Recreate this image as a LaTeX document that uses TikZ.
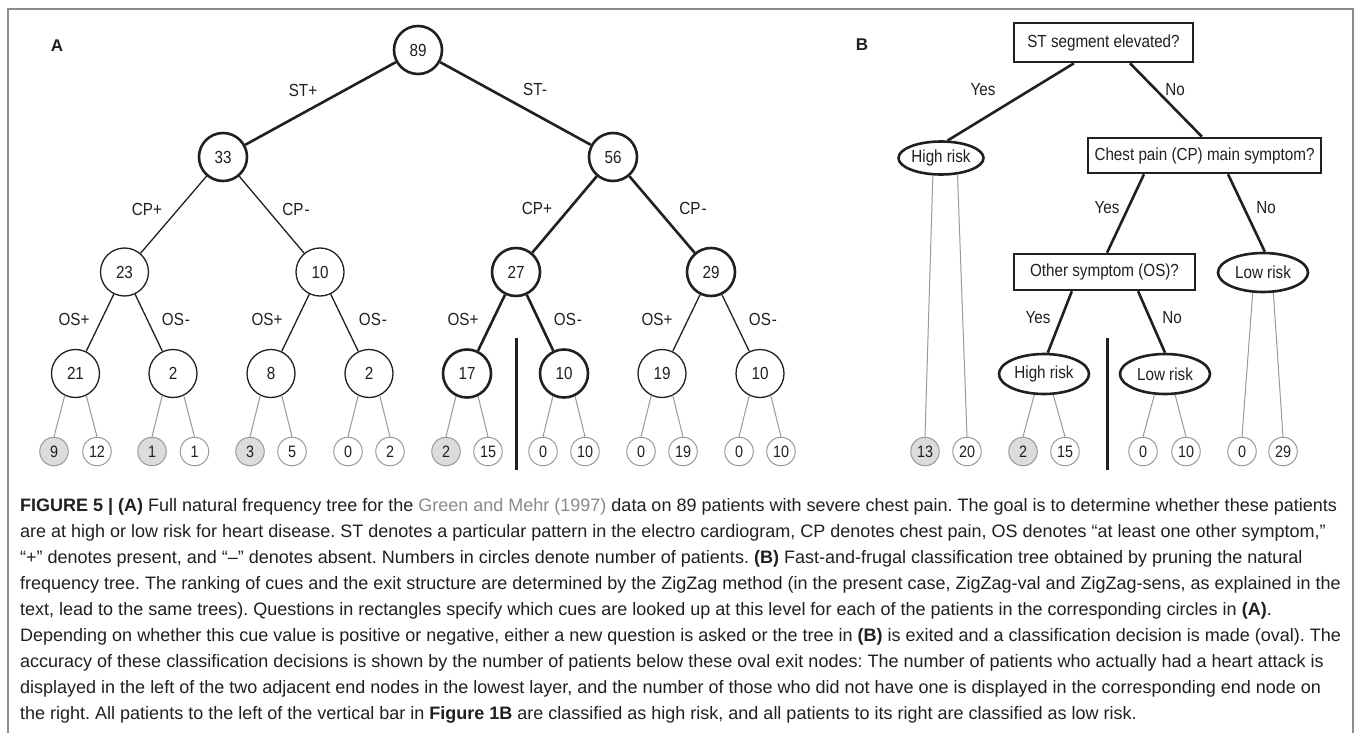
\documentclass[tikz,border=0pt]{standalone}
\usepackage{fontspec}
\setmainfont{Liberation Sans}
\newfontfamily\condf[FakeStretch=0.87]{Liberation Sans}
\newfontfamily\capf{Liberation Sans}
\usetikzlibrary{shapes.geometric,calc}
\definecolor{ink}{HTML}{231F20}
\definecolor{framegray}{HTML}{8C8C8C}
\definecolor{leafgray}{HTML}{999999}
\definecolor{leaffill}{HTML}{DCDCDC}
\definecolor{linkgray}{HTML}{8A8A8A}
\tikzset{
  tfont/.style={font=\condf\fontsize{17.5}{20}\selectfont},
  bign/.style={circle, draw=ink, line width=1.3pt, minimum size=48pt, inner sep=0pt, text=ink, tfont},
  bigt/.style={bign, line width=2.6pt},
  leaf/.style={circle, draw=leafgray, line width=1pt, fill=white, minimum size=28.5pt, inner sep=0pt, text=ink, font=\condf\fontsize{16.5}{19}\selectfont},
  leafs/.style={leaf, fill=leaffill},
  thinedge/.style={draw=ink, line width=1.3pt},
  thickedge/.style={draw=ink, line width=2.6pt},
  leafedge/.style={draw=leafgray, line width=1pt},
  lbl/.style={inner sep=0pt, text=ink, tfont},
  qbox/.style={rectangle, draw=ink, line width=2.6pt, inner sep=0pt, text=ink, tfont},
  oval/.style={ellipse, draw=ink, line width=2.6pt, inner sep=0pt, text=ink, tfont},
  vbar/.style={draw=ink, line width=3pt},
  panel/.style={inner sep=0pt, text=ink, font=\bfseries\fontsize{17}{20}\selectfont}
}
\begin{document}
\begin{tikzpicture}[x=1pt,y=-1pt]
\useasboundingbox (0,0) rectangle (1357,733);
\fill[white] (0,0) rectangle (1357,733);
\draw[framegray, line width=2pt] (8,734) -- (8,9) -- (1353,9) -- (1353,734);

% ---------------- Panel A ----------------
\node[panel] (pA) at (57,46) {A};
\node[bigt] (n89) at (418,50) {89};
\node[bigt] (n33) at (223,157) {33};
\node[bigt] (n56) at (613,157) {56};
\node[bign] (n23) at (124.5,272) {23};
\node[bign] (n10a) at (320,272) {10};
\node[bigt] (n27) at (516,272) {27};
\node[bigt] (n29) at (711,272) {29};
\node[bign] (n21) at (75.5,373.5) {21};
\node[bign] (n2a) at (173,373.5) {2};
\node[bign] (n8) at (271,373.5) {8};
\node[bign] (n2b) at (369,373.5) {2};
\node[bigt] (n17) at (467,373.5) {17};
\node[bigt] (n10b) at (564,373.5) {10};
\node[bign] (n19) at (662,373.5) {19};
\node[bign] (n10c) at (760,373.5) {10};

\node[leafs] (a1) at (54,451.5) {9};
\node[leaf]  (a2) at (97,451.5) {12};
\node[leafs] (a3) at (152,451.5) {1};
\node[leaf]  (a4) at (194.5,451.5) {1};
\node[leafs] (a5) at (250,451.5) {3};
\node[leaf]  (a6) at (292,451.5) {5};
\node[leaf]  (a7) at (348,451.5) {0};
\node[leaf]  (a8) at (390,451.5) {2};
\node[leafs] (a9) at (446,451.5) {2};
\node[leaf]  (a10) at (488,451.5) {15};
\node[leaf]  (a11) at (543,451.5) {0};
\node[leaf]  (a12) at (585,451.5) {10};
\node[leaf]  (a13) at (641,451.5) {0};
\node[leaf]  (a14) at (683,451.5) {19};
\node[leaf]  (a15) at (739,451.5) {0};
\node[leaf]  (a16) at (781,451.5) {10};

\draw[thickedge] (n89) -- (n33);
\draw[thickedge] (n89) -- (n56);
\draw[thinedge] (n33) -- (n23);
\draw[thinedge] (n33) -- (n10a);
\draw[thickedge] (n56) -- (n27);
\draw[thickedge] (n56) -- (n29);
\draw[thinedge] (n23) -- (n21);
\draw[thinedge] (n23) -- (n2a);
\draw[thinedge] (n10a) -- (n8);
\draw[thinedge] (n10a) -- (n2b);
\draw[thickedge] (n27) -- (n17);
\draw[thickedge] (n27) -- (n10b);
\draw[thinedge] (n29) -- (n19);
\draw[thinedge] (n29) -- (n10c);

\foreach \p/\l/\r in {n21/a1/a2, n2a/a3/a4, n8/a5/a6, n2b/a7/a8, n17/a9/a10, n10b/a11/a12, n19/a13/a14, n10c/a15/a16}{
  \draw[leafedge] (\p.-116) -- (\l.north);
  \draw[leafedge] (\p.-64) -- (\r.north);
}

\node[lbl] (lst1) at (303,90) {ST+};
\node[lbl] (lst2) at (535,89) {ST-};
\node[lbl] (lcp1) at (147,209) {CP+};
\node[lbl] (lcp2) at (296,209) {CP\kern1pt-};
\node[lbl] (lcp3) at (537,208) {CP+};
\node[lbl] (lcp4) at (693,208) {CP\kern1pt-};
\node[lbl] (los1) at (74,319) {OS+};
\node[lbl] (los2) at (176,319) {OS\kern1pt-};
\node[lbl] (los3) at (267,319) {OS+};
\node[lbl] (los4) at (373,319) {OS\kern1pt-};
\node[lbl] (los5) at (463,319) {OS+};
\node[lbl] (los6) at (568,319) {OS\kern1pt-};
\node[lbl] (los7) at (657,319) {OS+};
\node[lbl] (los8) at (763,319) {OS\kern1pt-};

\coordinate (barAt) at (516,338);
\coordinate (barAb) at (516,470);
\draw[vbar] (barAt) -- (barAb);

% ---------------- Panel B ----------------
\node[panel] (pB) at (862,45) {B};
\node[qbox, minimum width=179pt, minimum height=39pt] (st) at (1103.5,42.5) {ST segment elevated?};
\node[oval, minimum width=85pt, minimum height=33pt] (hr1) at (941,158) {High risk};
\node[qbox, minimum width=233pt, minimum height=35pt] (cp) at (1204.5,155.5) {Chest pain (CP) main symptom?};
\node[qbox, minimum width=181pt, minimum height=36pt] (os) at (1104.5,272) {Other symptom (OS)?};
\node[oval, minimum width=90pt, minimum height=39pt] (lr1) at (1263,272.5) {Low risk};
\node[oval, minimum width=90pt, minimum height=40pt] (hr2) at (1044,374) {High risk};
\node[oval, minimum width=90pt, minimum height=40pt] (lr2) at (1165,374) {Low risk};

\node[leafs] (b1) at (925,451.5) {13};
\node[leaf]  (b2) at (967,451.5) {20};
\node[leafs] (b3) at (1023,451.5) {2};
\node[leaf]  (b4) at (1065,451.5) {15};
\node[leaf]  (b5) at (1143,451.5) {0};
\node[leaf]  (b6) at (1186,451.5) {10};
\node[leaf]  (b7) at (1242,451.5) {0};
\node[leaf]  (b8) at (1283,451.5) {29};

\draw[thickedge] ($(st.south west)!0.337!(st.south east)$) -- (hr1.69);
\draw[thickedge] ($(st.south west)!0.646!(st.south east)$) -- ($(cp.north west)!0.489!(cp.north east)$);
\draw[thickedge] ($(cp.south west)!0.243!(cp.south east)$) -- ($(os.north west)!0.514!(os.north east)$);
\draw[thickedge] ($(cp.south west)!0.6!(cp.south east)$) -- (lr1.85);
\draw[thickedge] ($(os.south west)!0.322!(os.south east)$) -- (hr2.80);
\draw[thickedge] ($(os.south west)!0.683!(os.south east)$) -- (lr2.north);

\draw[leafedge] (hr1.-115) -- (b1.north);
\draw[leafedge] (hr1.-45) -- (b2.north);
\draw[leafedge] (hr2.-115) -- (b3.north);
\draw[leafedge] (hr2.-66) -- (b4.north);
\draw[leafedge] (lr2.-117) -- (b5.north);
\draw[leafedge] (lr2.-64) -- (b6.north);
\draw[leafedge] (lr1.-117) -- (b7.north);
\draw[leafedge] (lr1.-63) -- (b8.north);

\node[lbl] (ly1) at (983,90) {Yes};
\node[lbl] (ln1) at (1175,90) {No};
\node[lbl] (ly2) at (1107,208) {Yes};
\node[lbl] (ln2) at (1266,208) {No};
\node[lbl] (ly3) at (1038,318) {Yes};
\node[lbl] (ln3) at (1172,318) {No};

\coordinate (barBt) at (1107,338);
\coordinate (barBb) at (1107,470);
\draw[vbar] (barBt) -- (barBb);

% ---------------- Caption ----------------
\node[anchor=base west, inner sep=0pt, text=ink] (cap) at (20,511) {%
\begin{minipage}[t]{1330pt}\capf\fontsize{18}{26}\selectfont\frenchspacing\setlength{\parindent}{0pt}%
\mbox{{\bfseries FIGURE 5 | (A)} Full natural frequency tree for the {\color{linkgray}Green and Mehr (1997)} data on 89 patients with severe chest pain. The goal is to determine whether these patients}\par
\mbox{are at high or low risk for heart disease. ST denotes a particular pattern in the electro cardiogram, CP denotes chest pain, OS denotes “at least one other symptom,”}\par
\mbox{“+” denotes present, and “–” denotes absent. Numbers in circles denote number of patients. {\bfseries (B)} Fast-and-frugal classification tree obtained by pruning the natural}\par
\mbox{frequency tree. The ranking of cues and the exit structure are determined by the ZigZag method (in the present case, ZigZag-val and ZigZag-sens, as explained in the}\par
\mbox{text, lead to the same trees). Questions in rectangles specify which cues are looked up at this level for each of the patients in the corresponding circles in {\bfseries (A)}.}\par
\mbox{Depending on whether this cue value is positive or negative, either a new question is asked or the tree in {\bfseries (B)} is exited and a classification decision is made (oval). The}\par
\mbox{accuracy of these classification decisions is shown by the number of patients below these oval exit nodes: The number of patients who actually had a heart attack is}\par
\mbox{displayed in the left of the two adjacent end nodes in the lowest layer, and the number of those who did not have one is displayed in the corresponding end node on}\par
\mbox{the right. All patients to the left of the vertical bar in {\bfseries Figure 1B} are classified as high risk, and all patients to its right are classified as low risk.}%
\end{minipage}};
\end{tikzpicture}
\end{document}
